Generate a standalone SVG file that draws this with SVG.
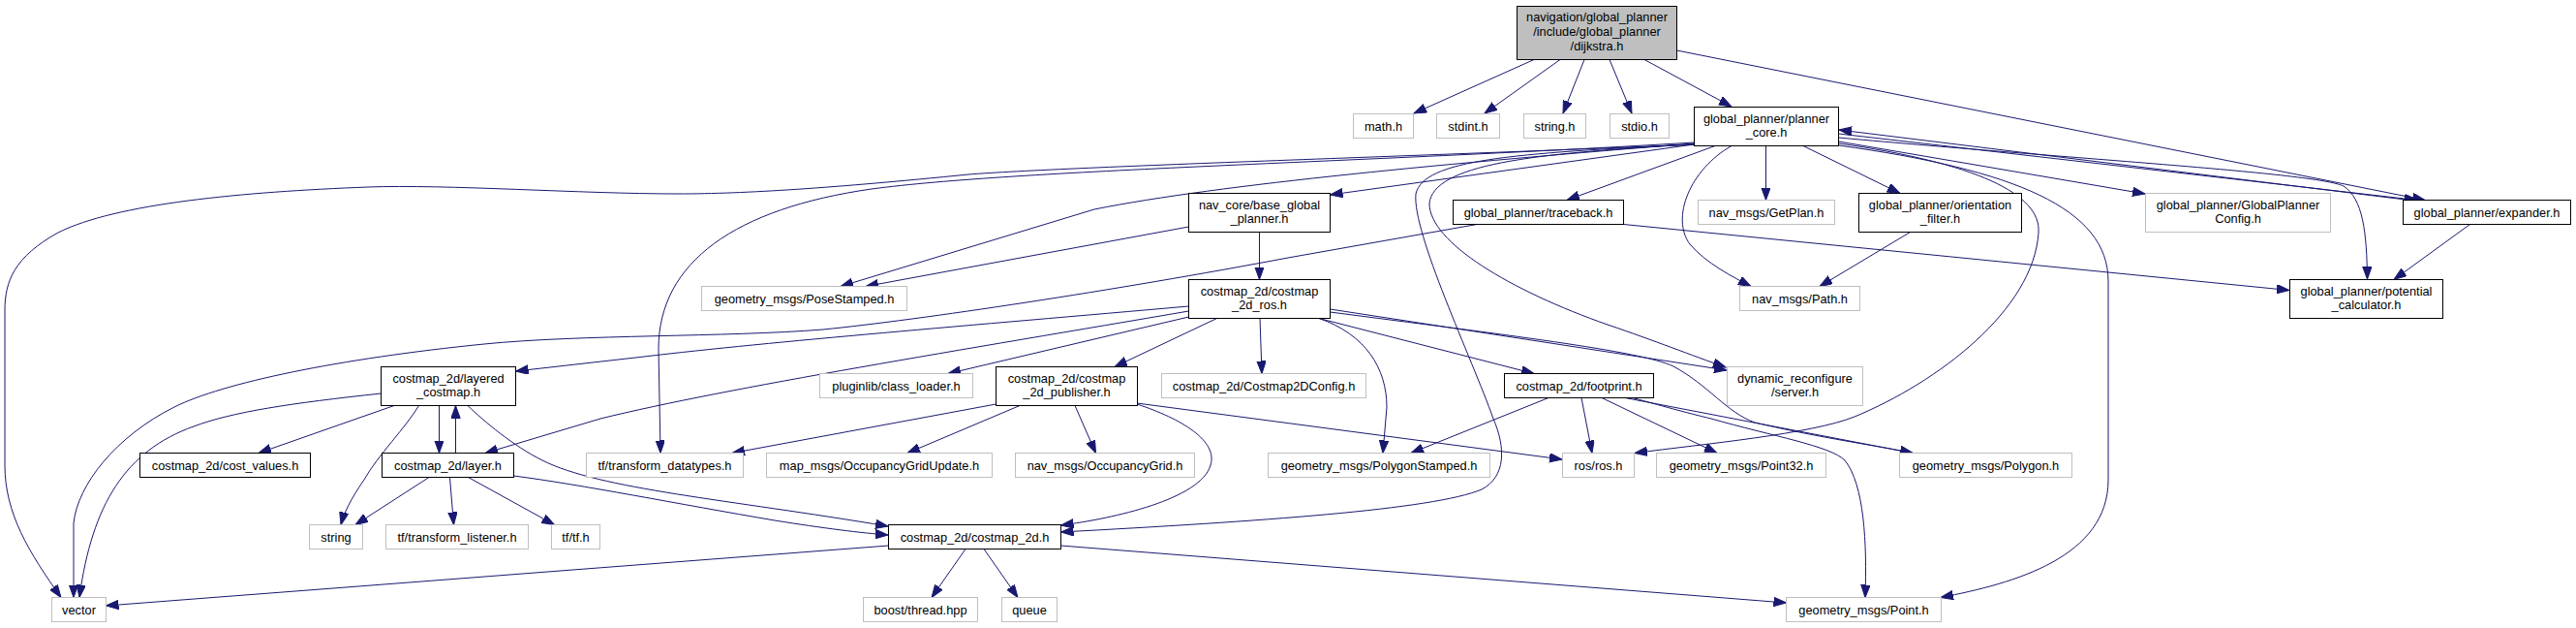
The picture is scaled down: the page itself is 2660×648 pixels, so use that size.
<svg xmlns="http://www.w3.org/2000/svg" width="2660" height="648" viewBox="0 0 2660 648">
<style>
.n rect{fill:#fff;stroke:#000;stroke-width:1}
.u rect{fill:#fff;stroke:#bfbfbf;stroke-width:1}
.r rect{fill:#bfbfbf;stroke:#000;stroke-width:1}
text{font-family:"Liberation Sans",Arial,sans-serif;font-size:12.8px;fill:#000;text-anchor:middle}
#edges path{fill:none;stroke:#191970;stroke-width:1;marker-end:url(#a)}
</style>
<defs>
<marker id="a" markerWidth="14" markerHeight="10" refX="13" refY="4.7" orient="auto" markerUnits="userSpaceOnUse"><path d="M0,0 L13,4.7 L0,9.4 z" fill="#191970" stroke="#191970" stroke-width="1"/></marker>
</defs>
<rect width="2660" height="648" fill="#fff"/>
<g id="edges">
<path d="M1584,61.5 L1460,117"/>
<path d="M1611,61.5 L1533,117"/>
<path d="M1636,61.5 L1614,117"/>
<path d="M1662,61.5 L1685,117"/>
<path d="M1698,61.5 L1788,110"/>
<path d="M1731.5,52 L2504,206.5"/>
<path d="M1898.5,138 L2496,206.5"/>
<path d="M2488,206.5 L1899,134"/>
<path d="M1898.5,146 L2215,200"/>
<path d="M1898.5,142 C2150,165 2390,178 2420,192 C2440,205 2444,240 2444.5,288"/>
<path d="M1898.5,148 C2040,168 2108,200 2105,240 C2100,320 2000,395 1915,430 C1870,448 1760,458 1688,467.5"/>
<path d="M1898.5,150 C2080,175 2177,215 2177,290 L2177,495 C2177,575 2080,602 2004,616.5"/>
<path d="M1862,150.5 L1962,199.5"/>
<path d="M1823.5,150.5 L1823.5,206.5"/>
<path d="M1788,150.5 C1745,175 1725,225 1745,252 C1762,272 1790,286 1808,295.5"/>
<path d="M1771,150.5 L1618,206.5"/>
<path d="M1749.5,149 L1373.5,201"/>
<path d="M1749.5,148 C1500,168 1260,190 1130,216 L868,295.5"/>
<path d="M1749.5,147 C1400,168 1050,175 900,195 C760,215 680,270 680,360 L682,467.5"/>
<path d="M1749.5,149 C1500,160 1100,172 1000,180 C860,194 770,200 700,200 C600,200 460,190 380,193 C250,198 120,210 60,240 C15,265 5,290 5,320 L5,480 C5,530 30,570 63,616.5"/>
<path d="M1749.5,149 C1580,158 1480,170 1476,210 C1476,250 1560,300 1660,335 C1710,352 1745,366 1782,379"/>
<path d="M1749.5,149 C1560,158 1470,165 1462,200 C1458,240 1520,370 1542,432 C1555,462 1555,492 1530,505 C1480,526 1300,538 1095.5,549"/>
<path d="M1525,231.5 L1330,266 C1150,300 950,330 850,340 C750,348 600,345 500,355 C350,370 230,395 180,420 C120,450 80,500 76,540 L76,616.5"/>
<path d="M1676.5,231.5 L2364,299.5"/>
<path d="M1227.5,234 L894,295.5"/>
<path d="M1300.5,239.5 L1300.5,288.5"/>
<path d="M1227.5,316 C1000,336 800,352 665,368 L532.5,383"/>
<path d="M1227.5,321 C1000,360 750,400 620,432 L501,467.5"/>
<path d="M1227.5,327 L979,385.5"/>
<path d="M1256.5,328.5 L1151,378.5"/>
<path d="M1301,328.5 L1303,385.5"/>
<path d="M1362,328.5 L1584,385.5"/>
<path d="M1373.5,319 L1783,382"/>
<path d="M1373.5,322 C1550,345 1695,362 1728,378 C1765,398 1782,425 1812,436 C1880,452 1940,460 1975,467.5"/>
<path d="M1362,328.5 C1410,345 1432,380 1432,420 L1428,467.5"/>
<path d="M1028.5,417 L756,467.5"/>
<path d="M1053,418.5 L937,467.5"/>
<path d="M1110,418.5 L1131.5,467.5"/>
<path d="M1174,417 C1220,432 1258,455 1250,480 C1240,515 1150,535 1095.5,542"/>
<path d="M1174,416 L1613,474"/>
<path d="M393.5,406 C300,416 240,425 200,440 C130,465 95,520 82,616.5"/>
<path d="M407,418.5 L267,467.5"/>
<path d="M432.5,418.5 C420,440 390,470 376,495 C362,515 355,530 352,541.5"/>
<path d="M453.5,418.5 L453.5,467.5"/>
<path d="M470.5,467.5 L470.5,418.5"/>
<path d="M483,418.5 C500,435 530,460 560,475 C620,505 750,515 917,543"/>
<path d="M530.5,491 C600,500 700,520 800,537 C850,545 890,550 917,552"/>
<path d="M443,492.5 L367,541.5"/>
<path d="M464.5,492.5 L468.5,541.5"/>
<path d="M483.5,492.5 L572.5,541.5"/>
<path d="M917.5,563 L109.5,625"/>
<path d="M997,566.5 L962,616.5"/>
<path d="M1016,566.5 L1051,616.5"/>
<path d="M1095.5,563 L1844.5,622"/>
<path d="M1599,410.5 L1457,467.5"/>
<path d="M1633,410.5 L1644,467.5"/>
<path d="M1654,410.5 L1773,467.5"/>
<path d="M1678,410.5 L1975,467.5"/>
<path d="M1686,410.5 C1720,420 1750,428 1767,432 C1830,450 1890,460 1905,475 C1925,500 1928,560 1926,616.5"/>
<path d="M1972.5,239.5 L1879,295.5"/>
<path d="M2550.5,231.5 L2472,288.5"/>
</g>
<g id="dijkstra" class="r"><rect x="1566.5" y="6.5" width="165" height="55"/><text x="1649" y="22">navigation/global_planner</text><text x="1649" y="37">/include/global_planner</text><text x="1649" y="51.5">/dijkstra.h</text></g>
<g id="math" class="u"><rect x="1397.5" y="117.5" width="62" height="25"/><text x="1428.5" y="134.5">math.h</text></g>
<g id="stdint" class="u"><rect x="1483.5" y="117.5" width="65" height="25"/><text x="1516" y="134.5">stdint.h</text></g>
<g id="string_h" class="u"><rect x="1573.5" y="117.5" width="64" height="25"/><text x="1605.5" y="134.5">string.h</text></g>
<g id="stdio" class="u"><rect x="1662.5" y="117.5" width="61" height="25"/><text x="1693" y="134.5">stdio.h</text></g>
<g id="planner_core" class="n"><rect x="1749.5" y="110.5" width="149" height="40"/><text x="1824" y="127">global_planner/planner</text><text x="1824" y="141">_core.h</text></g>
<g id="nav_core" class="n"><rect x="1227.5" y="199.5" width="146" height="40"/><text x="1300.5" y="216">nav_core/base_global</text><text x="1300.5" y="230">_planner.h</text></g>
<g id="traceback" class="n"><rect x="1500.5" y="206.5" width="176" height="25"/><text x="1588.5" y="223.5">global_planner/traceback.h</text></g>
<g id="getplan" class="u"><rect x="1753.5" y="206.5" width="141" height="25"/><text x="1824" y="223.5">nav_msgs/GetPlan.h</text></g>
<g id="orientation" class="n"><rect x="1919.5" y="199.5" width="168" height="40"/><text x="2003.5" y="216">global_planner/orientation</text><text x="2003.5" y="230">_filter.h</text></g>
<g id="gpconfig" class="u"><rect x="2215.5" y="199.5" width="191" height="40"/><text x="2311" y="216">global_planner/GlobalPlanner</text><text x="2311" y="230">Config.h</text></g>
<g id="expander" class="n"><rect x="2481.5" y="206.5" width="173" height="25"/><text x="2568" y="223.5">global_planner/expander.h</text></g>
<g id="posestamped" class="u"><rect x="724.5" y="295.5" width="212" height="25"/><text x="830.5" y="312.5">geometry_msgs/PoseStamped.h</text></g>
<g id="costmap_ros" class="n"><rect x="1227.5" y="288.5" width="146" height="40"/><text x="1300.5" y="305">costmap_2d/costmap</text><text x="1300.5" y="319">_2d_ros.h</text></g>
<g id="path" class="u"><rect x="1796.5" y="295.5" width="124" height="25"/><text x="1858.5" y="312.5">nav_msgs/Path.h</text></g>
<g id="potential" class="n"><rect x="2364.5" y="288.5" width="158" height="40"/><text x="2443.5" y="305">global_planner/potential</text><text x="2443.5" y="319">_calculator.h</text></g>
<g id="layered" class="n"><rect x="393.5" y="378.5" width="139" height="40"/><text x="463" y="395">costmap_2d/layered</text><text x="463" y="409">_costmap.h</text></g>
<g id="pluginlib" class="u"><rect x="846.5" y="385.5" width="158" height="25"/><text x="925.5" y="402.5">pluginlib/class_loader.h</text></g>
<g id="publisher" class="n"><rect x="1028.5" y="378.5" width="146" height="40"/><text x="1101.5" y="395">costmap_2d/costmap</text><text x="1101.5" y="409">_2d_publisher.h</text></g>
<g id="c2dconfig" class="u"><rect x="1199.5" y="385.5" width="211" height="25"/><text x="1305" y="402.5">costmap_2d/Costmap2DConfig.h</text></g>
<g id="footprint" class="n"><rect x="1553.5" y="385.5" width="154" height="25"/><text x="1630.5" y="402.5">costmap_2d/footprint.h</text></g>
<g id="dynreconf" class="u"><rect x="1783.5" y="378.5" width="140" height="40"/><text x="1853.5" y="395">dynamic_reconfigure</text><text x="1853.5" y="409">/server.h</text></g>
<g id="cost_values" class="n"><rect x="144.5" y="467.5" width="176" height="25"/><text x="232.5" y="484.5">costmap_2d/cost_values.h</text></g>
<g id="layer" class="n"><rect x="394.5" y="467.5" width="136" height="25"/><text x="462.5" y="484.5">costmap_2d/layer.h</text></g>
<g id="tfdt" class="u"><rect x="605.5" y="467.5" width="162" height="25"/><text x="686.5" y="484.5">tf/transform_datatypes.h</text></g>
<g id="ogu" class="u"><rect x="791.5" y="467.5" width="233" height="25"/><text x="908" y="484.5">map_msgs/OccupancyGridUpdate.h</text></g>
<g id="og" class="u"><rect x="1048.5" y="467.5" width="185" height="25"/><text x="1141" y="484.5">nav_msgs/OccupancyGrid.h</text></g>
<g id="polystamped" class="u"><rect x="1309.5" y="467.5" width="229" height="25"/><text x="1424" y="484.5">geometry_msgs/PolygonStamped.h</text></g>
<g id="ros" class="u"><rect x="1613.5" y="467.5" width="74" height="25"/><text x="1650.5" y="484.5">ros/ros.h</text></g>
<g id="point32" class="u"><rect x="1710.5" y="467.5" width="175" height="25"/><text x="1798" y="484.5">geometry_msgs/Point32.h</text></g>
<g id="polygon" class="u"><rect x="1961.5" y="467.5" width="178" height="25"/><text x="2050.5" y="484.5">geometry_msgs/Polygon.h</text></g>
<g id="string" class="u"><rect x="319.5" y="541.5" width="55" height="25"/><text x="347" y="558.5">string</text></g>
<g id="tflistener" class="u"><rect x="398.5" y="541.5" width="147" height="25"/><text x="472" y="558.5">tf/transform_listener.h</text></g>
<g id="tftf" class="u"><rect x="569.5" y="541.5" width="50" height="25"/><text x="594.5" y="558.5">tf/tf.h</text></g>
<g id="costmap2d" class="n"><rect x="917.5" y="541.5" width="178" height="25"/><text x="1006.5" y="558.5">costmap_2d/costmap_2d.h</text></g>
<g id="vector" class="u"><rect x="53.5" y="616.5" width="56" height="25"/><text x="81.5" y="633.5">vector</text></g>
<g id="boost" class="u"><rect x="891.5" y="616.5" width="118" height="25"/><text x="950.5" y="633.5">boost/thread.hpp</text></g>
<g id="queue" class="u"><rect x="1034.5" y="616.5" width="57" height="25"/><text x="1063" y="633.5">queue</text></g>
<g id="point" class="u"><rect x="1844.5" y="616.5" width="160" height="25"/><text x="1924.5" y="633.5">geometry_msgs/Point.h</text></g>
</svg>
